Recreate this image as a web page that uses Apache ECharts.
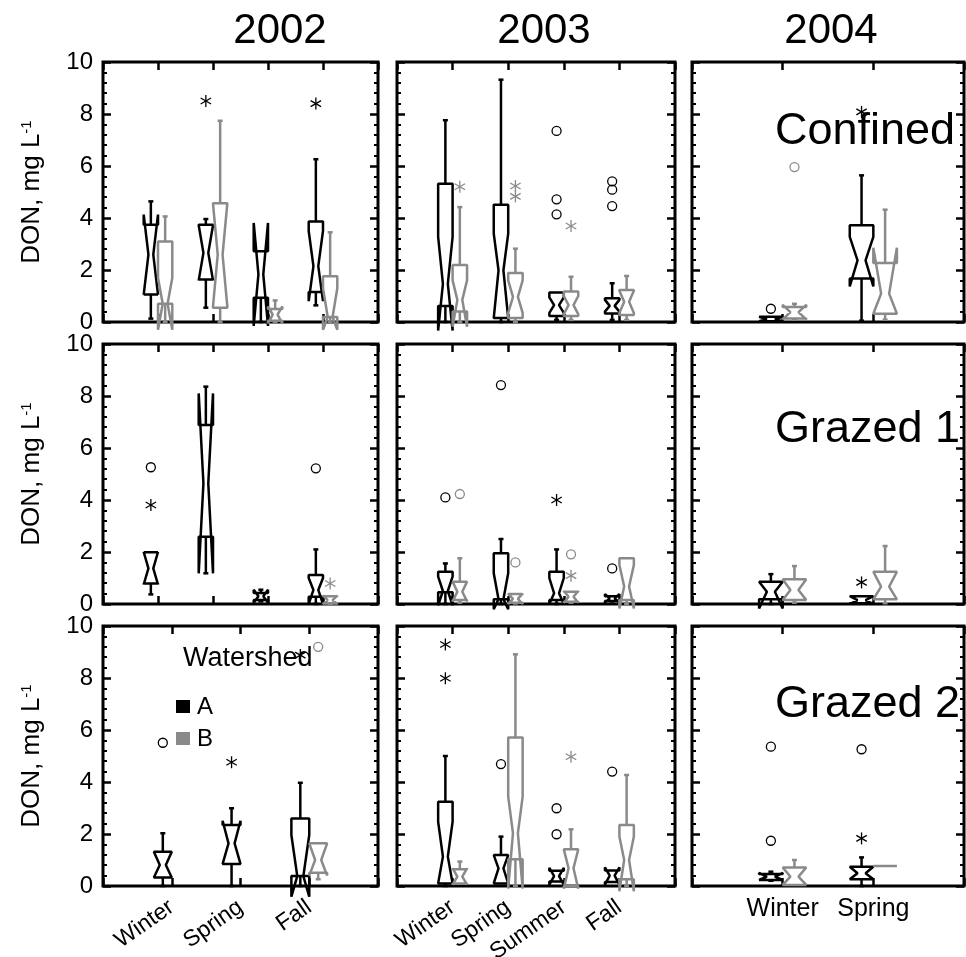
<!DOCTYPE html>
<html><head><meta charset="utf-8">
<script src="https://cdn.jsdelivr.net/npm/echarts@6/dist/echarts.min.js"></script>
<style>html,body{margin:0;padding:0;background:#fff}#c{width:966px;height:957px}</style>
</head><body><div id="c"></div>
<script>
// ---------- categories / labels ----------
const years = ['2002', '2003', '2004'];
const sites = ['Confined', 'Grazed 1', 'Grazed 2'];
const seasons2002 = ['Winter', 'Spring', 'Summer', 'Fall'];
const seasons2002Grazed2 = ['Winter', 'Spring', 'Fall'];
const seasons2003 = ['Winter', 'Spring', 'Summer', 'Fall'];
const seasons2004 = ['Winter', 'Spring'];
const yTickLabels = [0, 2, 4, 6, 8, 10];
const watersheds = ['A', 'B'];

// ---------- box statistics: [whiskerLow, Q1, notchLow, median, notchHigh, Q3, whiskerHigh] ----------
const confined2002A = [[0.13,1.06,1.05,2.59,4.13,3.74,4.64],[0.55,1.63,1.6,2.66,3.72,3.74,3.96],[0,0.93,-0.15,1.83,3.81,2.72,2.72],[0.64,1.15,0.8,2.15,3.5,3.87,6.26]];
const confined2002B = [[0,0.7,-0.3,0.7,1.7,3.1,4.06],[0,0.55,0.6,2.59,4.55,4.57,7.74],[0,0.05,-0.05,0.28,0.6,0.5,0.83],[0,0.19,-0.3,0.19,1.3,1.76,3.45]];
const confined2003A = [[0,0.62,-0.33,1.47,3.27,5.32,7.76],[0,0.15,0.15,1.99,3.4,4.51,9.32],[0.08,0.23,0.35,0.65,0.95,1.13,1.13],[0.08,0.33,0.4,0.62,0.85,0.91,1.49]];
const confined2003B = [[0,0.4,-0.18,0.85,1.6,2.19,4.42],[0,0.15,0.35,0.97,1.6,1.88,2.82],[0.08,0.23,0.3,0.65,1.0,1.17,1.74],[0.08,0.27,0.35,0.78,1.2,1.23,1.77]];
const confined2004A = [[0.03,0.03,0.03,0.11,0.2,0.2,0.2],[0.05,1.67,1.37,2.37,3.27,3.72,5.64]];
const confined2004B = [[0.1,0.13,0.1,0.38,0.66,0.58,0.7],[0.09,0.32,0.32,1.09,2.86,2.27,4.32]];
const grazed1_2002A = [[0.37,0.79,0.75,1.37,2.0,1.99,1.99],[1.18,2.59,1.18,4.64,8.1,6.88,8.36],[0.1,0.15,0.05,0.3,0.55,0.42,0.55],[0,0.28,0,0.54,1.0,1.12,2.1]];
const grazed1_2002B = [null, null, null, [0,0.02,0,0.15,0.32,0.3,0.3]];
const grazed1_2003A = [[0,0.45,-0.05,0.5,1.05,1.24,1.56],[0,0.18,-0.2,0.18,1.18,1.95,2.5],[0,0.15,0,0.41,1.0,1.24,2.1],[0.1,0.12,0.05,0.22,0.38,0.3,0.3]];
const grazed1_2003B = [[0.05,0.15,0.1,0.47,0.86,0.86,1.76],[0.02,0.05,0,0.2,0.4,0.38,0.38],[0.05,0.09,0.05,0.28,0.5,0.47,0.47],[0,0.15,-0.17,0.67,1.5,1.76,1.76]];
const grazed1_2004A = [[0,0.18,-0.17,0.47,0.86,0.86,1.15],[0.03,0.03,0,0.15,0.3,0.3,0.3]];
const grazed1_2004B = [[0.05,0.15,0.15,0.54,0.95,0.95,1.46],[0.03,0.18,0.18,0.67,1.24,1.24,2.23]];
const grazed2_2002A = [[0,0.33,0.33,0.81,1.32,1.32,2.03],[0,0.85,0.85,1.64,2.51,2.35,2.99],[0,0.38,-0.41,0.38,1.96,2.6,3.97]];
const grazed2_2002B = [null, null, [0.26,0.51,0.4,1.0,1.64,1.64,1.64]];
const grazed2_2003A = [[0,0.1,0.1,1.13,2.47,3.24,5.0],[0.1,0.1,0.1,0.68,1.19,1.19,1.9],[0.17,0.17,0.05,0.38,0.7,0.59,0.59],[0.15,0.15,0.05,0.4,0.72,0.6,0.6]];
const grazed2_2003B = [[0.1,0.1,0.05,0.36,0.68,0.64,0.94],[0,1.03,-0.1,2.03,3.44,5.71,8.91],[0,0,-0.1,0.68,1.41,1.41,2.18],[0,0.26,-0.2,1.0,1.9,2.35,4.27]];
const grazed2_2004A = [[0.2,0.23,0.23,0.36,0.5,0.46,0.55],[0,0.26,0.26,0.49,0.74,0.74,1.1]];
const grazed2_2004B = [[0.04,0.04,0.04,0.36,0.71,0.71,1.0],[0.77,0.77,0.77,0.77,0.77,0.77,0.77]];

// ---------- outliers: [season number, watershed, value, symbol] ----------
const confined2002Out = [[2,'A',8.5,'*'],[4,'A',8.4,'*']];
const confined2003Out = [[1,'B',5.2,'*'],[2,'B',5.23,'*'],[2,'B',4.83,'*'],[3,'A',7.35,'o'],[3,'A',4.72,'o'],[3,'A',4.14,'o'],[3,'B',3.69,'*'],[4,'A',5.41,'o'],[4,'A',5.09,'o'],[4,'A',4.46,'o']];
const confined2004Out = [[1,'A',0.51,'o'],[1,'B',5.96,'o'],[2,'A',8.08,'*']];
const grazed1_2002Out = [[1,'A',5.26,'o'],[1,'A',3.81,'*'],[4,'A',5.22,'o'],[4,'B',0.79,'*']];
const grazed1_2003Out = [[1,'A',4.1,'o'],[1,'B',4.23,'o'],[2,'A',8.42,'o'],[2,'B',1.6,'o'],[3,'A',4.0,'*'],[3,'B',1.91,'o'],[3,'B',1.09,'*'],[4,'A',1.37,'o']];
const grazed1_2004Out = [[2,'A',0.83,'*']];
const grazed2_2002Out = [[1,'A',5.51,'o'],[2,'A',4.76,'*'],[3,'A',8.88,'*'],[3,'B',9.2,'o']];
const grazed2_2003Out = [[1,'A',9.29,'*'],[1,'A',7.99,'*'],[2,'A',4.69,'o'],[3,'A',2.99,'o'],[3,'A',1.99,'o'],[3,'B',4.97,'*'],[4,'A',4.4,'o']];
const grazed2_2004Out = [[1,'A',5.36,'o'],[1,'A',1.74,'o'],[2,'A',5.26,'o'],[2,'A',1.83,'*']];

const panelDefs = [
  [seasons2002, confined2002A, confined2002B, confined2002Out],
  [seasons2003, confined2003A, confined2003B, confined2003Out],
  [seasons2004, confined2004A, confined2004B, confined2004Out],
  [seasons2002, grazed1_2002A, grazed1_2002B, grazed1_2002Out],
  [seasons2003, grazed1_2003A, grazed1_2003B, grazed1_2003Out],
  [seasons2004, grazed1_2004A, grazed1_2004B, grazed1_2004Out],
  [seasons2002Grazed2, grazed2_2002A, grazed2_2002B, grazed2_2002Out],
  [seasons2003, grazed2_2003A, grazed2_2003B, grazed2_2003Out],
  [seasons2004, grazed2_2004A, grazed2_2004B, grazed2_2004Out]
];

// ---------- layout / style ----------
const FONT = "'Liberation Sans', Arial, Helvetica, sans-serif";
const GREY = '#8a8a8a';
const colL = [103, 397, 692], colW = [275, 278, 272];
const rowT = [62, 344, 626], rowH = 260;
const OFF = 0.13, BOXW = 0.26, NOTCH = 0.33;

function makeBox(sign, color) {
  return function (params, api) {
    const x = api.value(0) + sign * OFF;
    const wlo = api.value(1), q1 = api.value(2), nlo = api.value(3), med = api.value(4),
          nhi = api.value(5), q3 = api.value(6), whi = api.value(7);
    const cx = api.coord([x, 0])[0];
    const hw = api.size([BOXW, 0])[0] / 2;
    const Y = v => api.coord([x, v])[1];
    const xl = cx - hw, xr = cx + hw, ind = hw * 2 * NOTCH;
    const st = { stroke: color, fill: 'none', lineWidth: 2.5, lineJoin: 'bevel' };
    const ch = [{ type: 'polygon', shape: { points: [
      [xl, Y(q1)], [xl, Y(nlo)], [xl + ind, Y(med)], [xl, Y(nhi)], [xl, Y(q3)],
      [xr, Y(q3)], [xr, Y(nhi)], [xr - ind, Y(med)], [xr, Y(nlo)], [xr, Y(q1)]] }, style: st }];
    const cap = 2.5;
    if (whi > q3) {
      ch.push({ type: 'line', shape: { x1: cx, y1: Y(q3), x2: cx, y2: Y(whi) }, style: st });
      ch.push({ type: 'line', shape: { x1: cx - cap, y1: Y(whi), x2: cx + cap, y2: Y(whi) }, style: st });
    }
    if (wlo < q1) {
      ch.push({ type: 'line', shape: { x1: cx, y1: Y(q1), x2: cx, y2: Y(wlo) }, style: st });
      ch.push({ type: 'line', shape: { x1: cx - cap, y1: Y(wlo), x2: cx + cap, y2: Y(wlo) }, style: st });
    }
    return { type: 'group', children: ch };
  };
}

function renderOutlier(params, api) {
  const p = api.coord([api.value(0), api.value(1)]);
  const color = api.value(3) ? GREY : '#000';
  const st = { stroke: color, fill: 'none', lineWidth: 1.3 };
  if (api.value(2)) {
    const r = 6, a = r * Math.cos(Math.PI / 6), b = r * 0.5;
    return { type: 'group', children: [
      { type: 'line', shape: { x1: p[0], y1: p[1] - r, x2: p[0], y2: p[1] + r }, style: st },
      { type: 'line', shape: { x1: p[0] - a, y1: p[1] - b, x2: p[0] + a, y2: p[1] + b }, style: st },
      { type: 'line', shape: { x1: p[0] - a, y1: p[1] + b, x2: p[0] + a, y2: p[1] - b }, style: st }
    ] };
  }
  return { type: 'circle', shape: { cx: p[0], cy: p[1], r: 4.5 }, style: st };
}

const grids = [], xAxes = [], yAxes = [], series = [];
const tick = { show: true, inside: true, length: 8, lineStyle: { color: '#000', width: 2.5 } };
const yTick = { show: true, inside: true, length: 8, lineStyle: { color: '#000', width: 2.5 } };
const minor = { show: true, splitNumber: 5, length: 4, lineStyle: { color: '#000', width: 2 } };

panelDefs.forEach((pd, p) => {
  const r = Math.floor(p / 3), c = p % 3;
  const [cats, A, B, out] = pd;
  const n = cats.length;
  grids.push({ left: colL[c], top: rowT[r], width: colW[c], height: rowH, show: true,
    borderColor: '#000', borderWidth: 3, containLabel: false, outerBoundsMode: 'none' });
  let xLabel = { show: false };
  if (r === 2) {
    xLabel = c === 2
      ? { show: true, rotate: 0, fontSize: 25, fontFamily: FONT, color: '#000', margin: 11,
          formatter: v => cats[Math.round(v) - 1] || '' }
      : { show: true, rotate: 35, fontSize: 23, fontFamily: FONT, color: '#000', margin: 19,
          formatter: v => cats[Math.round(v) - 1] || '' };
  }
  const xBase = { gridIndex: p, type: 'value', min: 0, max: n + 1, interval: 1,
    axisLine: { show: false, onZero: false }, axisTick: tick, splitLine: { show: false } };
  xAxes.push(Object.assign({}, xBase, { position: 'bottom', axisLabel: xLabel }));
  xAxes.push(Object.assign({}, xBase, { position: 'top', axisLabel: { show: false } }));
  const yBase = { gridIndex: p, type: 'value', min: yTickLabels[0], max: yTickLabels[yTickLabels.length - 1], interval: 2,
    axisLine: { show: false, onZero: false }, axisTick: yTick, minorTick: minor,
    splitLine: { show: false }, minorSplitLine: { show: false } };
  const yLeft = Object.assign({}, yBase, { position: 'left',
    axisLabel: { show: c === 0, fontSize: 24, fontFamily: FONT, color: '#000', margin: 10 } });
  if (c === 0) {
    Object.assign(yLeft, { name: '{m|DON, mg L}{s|-1}', nameLocation: 'middle', nameGap: 58, nameRotate: 90,
      nameMoveOverlap: false,
      nameTextStyle: { color: '#000', fontFamily: FONT, fontSize: 26,
        rich: { m: { fontSize: 26, fontFamily: FONT, color: '#000' },
                s: { fontSize: 15, fontFamily: FONT, color: '#000', verticalAlign: 'top' } } } });
  }
  yAxes.push(yLeft);
  yAxes.push(Object.assign({}, yBase, { position: 'right', axisLabel: { show: false } }));
  const toData = arr => arr.map((s, i) => s ? [i + 1].concat(s) : null).filter(Boolean);
  series.push({ type: 'custom', xAxisIndex: 2 * p, yAxisIndex: 2 * p, clip: false, silent: true, z: 3,
    renderItem: makeBox(-1, '#000'), data: toData(A) });
  series.push({ type: 'custom', xAxisIndex: 2 * p, yAxisIndex: 2 * p, clip: false, silent: true, z: 4,
    renderItem: makeBox(1, GREY), data: toData(B) });
  series.push({ type: 'custom', xAxisIndex: 2 * p, yAxisIndex: 2 * p, clip: false, silent: true, z: 5,
    renderItem: renderOutlier,
    data: out.map(o => [o[0] + (o[1] === 'A' ? -OFF : OFF), o[2], o[3] === '*' ? 1 : 0, o[1] === 'B' ? 1 : 0]) });
});

const txt = (x, y, text, size, align, fill) => ({ type: 'text', x, y, silent: true, z: 10,
  style: { text, font: size + 'px ' + FONT, fill: fill || '#000', align: align || 'left', verticalAlign: 'middle',
           textAlign: align || 'left', textVerticalAlign: 'middle' } });

const graphic = [
  txt(280, 31, years[0], 42, 'center'),
  txt(544, 31, years[1], 42, 'center'),
  txt(831, 31, years[2], 42, 'center'),
  txt(775, 132, sites[0], 45, 'left'),
  txt(775, 430, sites[1], 45, 'left'),
  txt(775, 705, sites[2], 45, 'left'),
  txt(183, 659, 'Watershed', 27, 'left'),
  { type: 'rect', shape: { x: 176, y: 700, width: 14, height: 13 }, style: { fill: '#000' }, z: 10 },
  txt(197, 707, watersheds[0], 24, 'left'),
  { type: 'rect', shape: { x: 176, y: 732, width: 14, height: 13 }, style: { fill: GREY }, z: 10 },
  txt(197, 739, watersheds[1], 24, 'left', '#000')
];

const chart = echarts.init(document.getElementById('c'), null, { renderer: 'canvas' });
chart.setOption({ animation: false, backgroundColor: '#fff', grid: grids, xAxis: xAxes, yAxis: yAxes, series, graphic });
</script></body></html>
